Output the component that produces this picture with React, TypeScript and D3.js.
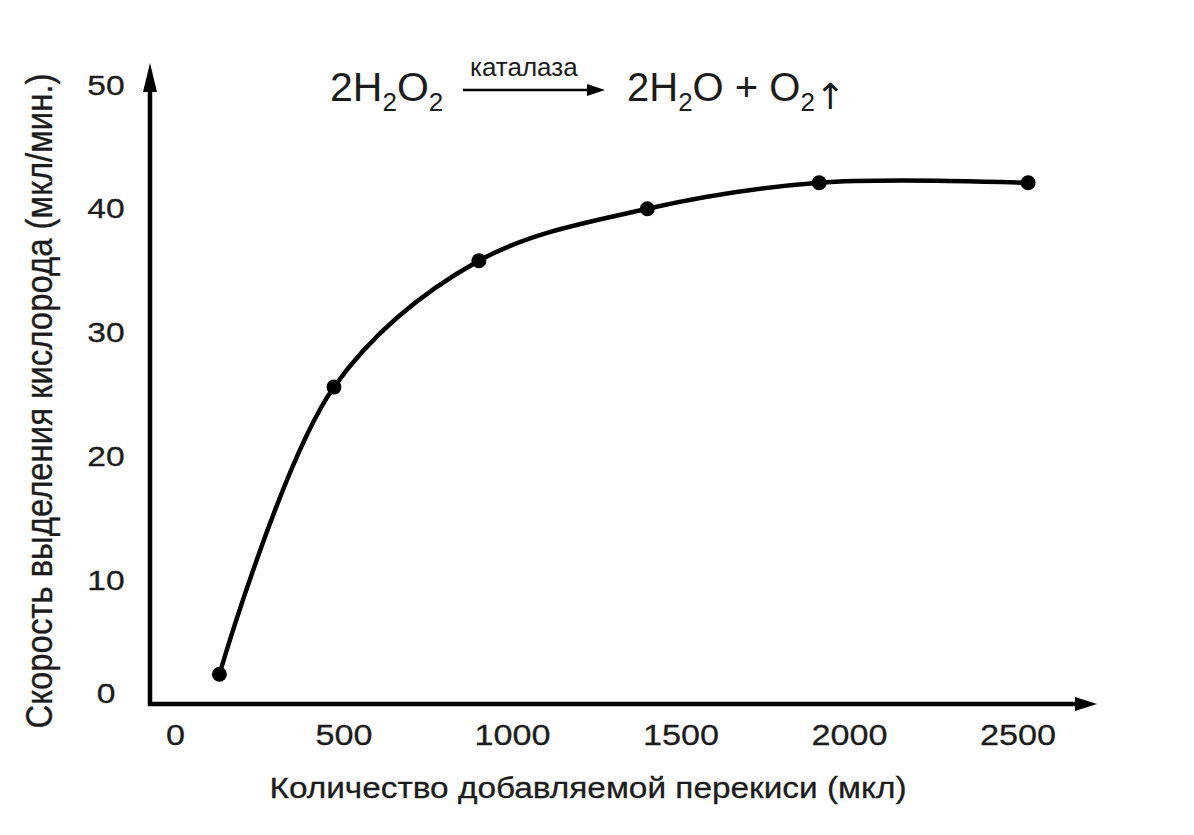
import React from "react";
import * as d3 from "d3";

const xTickValues = [0, 500, 1000, 1500, 2000, 2500];
const yTickValues = [0, 10, 20, 30, 40, 50];
const peroxideAmounts = [130, 470, 900, 1400, 1910, 2530];
const oxygenRates = [2.4, 25.6, 35.8, 40.0, 42.1, 42.1];
const xTitle = "Количество добавляемой перекиси (мкл)";
const yTitle = "Скорость выделения кислорода (мкл/мин.)";
const enzymeLabel = "каталаза";

const FONT = "'Liberation Sans', Arial, Helvetica, sans-serif";
const TEXT = "#1c1c1c";

export default function App() {
  const W = 1194;
  const H = 835;
  const x = d3.scaleLinear().domain([0, 2500]).range([175.6, 1018]);
  const y = d3.scaleLinear().domain([0, 50]).range([704, 85]);
  const axisX = 150;
  const axisY = y(0);
  const yTop = 63;
  const xRight = 1097;

  const pts = peroxideAmounts.map((v, i) => [x(v), y(oxygenRates[i])] as [number, number]);
  const linePath = d3.line().curve(d3.curveCatmullRom.alpha(0.5))(pts) || "";

  return (
    <svg
      width={W}
      height={H}
      style={{ position: "absolute", left: 0, top: 0, background: "#fff" }}
      fontFamily={FONT}
    >
      {/* axes */}
      <path
        d={`M${axisX},${yTop + 26} L${axisX},${axisY} L${xRight - 20},${axisY}`}
        fill="none"
        stroke="#000"
        strokeWidth={4.5}
        strokeLinejoin="miter"
        strokeLinecap="butt"
      />
      <path d={`M${axisX},${yTop} L${axisX - 7},${yTop + 29} L${axisX + 7},${yTop + 29} Z`} fill="#000" />
      <path d={`M${xRight},${axisY} L${xRight - 22},${axisY - 7} L${xRight - 22},${axisY + 7} Z`} fill="#000" />

      {/* y tick labels */}
      {yTickValues.map((v) => (
        <g key={"y" + v} transform={`translate(106, ${y(v) + (v === 0 ? -11 : 0)}) scale(1.18, 1)`}>
          <text textAnchor="middle" dominantBaseline="central" fontSize={28.5} fill={TEXT} stroke={TEXT} strokeWidth={0.3}>
            {String(v)}
          </text>
        </g>
      ))}

      {/* x tick labels */}
      {xTickValues.map((v) => (
        <g key={"x" + v} transform={`translate(${x(v)}, 745) scale(1.14, 1)`}>
          <text textAnchor="middle" fontSize={30} fill={TEXT} stroke={TEXT} strokeWidth={0.3}>
            {String(v)}
          </text>
        </g>
      ))}

      {/* axis titles */}
      <text
        x={588}
        y={798}
        textAnchor="middle"
        fontSize={30}
        fill={TEXT}
        stroke={TEXT}
        strokeWidth={0.3}
        textLength={637}
        lengthAdjust="spacingAndGlyphs"
      >
        {xTitle}
      </text>
      <g transform="translate(52, 401) rotate(-90) scale(1, 1.2)">
        <text
          x={0}
          y={0}
          textAnchor="middle"
          fontSize={31}
          fill={TEXT}
          stroke={TEXT}
          strokeWidth={0.3}
          textLength={655}
          lengthAdjust="spacingAndGlyphs"
        >
          {yTitle}
        </text>
      </g>

      {/* equation */}
      <text x={330} y={101} fontSize={41} fill={TEXT}>
        2H
        <tspan fontSize={26} dy={10}>2</tspan>
        <tspan dy={-10}>O</tspan>
        <tspan fontSize={26} dy={10}>2</tspan>
      </text>
      <text x={470} y={76} fontSize={26} fill={TEXT}>
        {enzymeLabel}
      </text>
      <line x1={463} y1={90} x2={590} y2={90} stroke="#000" strokeWidth={2.6} />
      <path d="M605,90 L587,84 L587,96 Z" fill="#000" />
      <text x={627} y={101} fontSize={40} fill={TEXT}>
        2H
        <tspan fontSize={26} dy={10}>2</tspan>
        <tspan dy={-10}>O + O</tspan>
        <tspan fontSize={26} dy={10}>2</tspan>
        <tspan fontFamily="'DejaVu Sans', sans-serif" fontSize={36} dy={-2}>↑</tspan>
      </text>

      {/* curve */}
      <path d={linePath} fill="none" stroke="#000" strokeWidth={4.5} strokeLinecap="round" />
      {pts.map((p, i) => (
        <circle key={i} cx={p[0]} cy={p[1]} r={7.5} fill="#000" />
      ))}
    </svg>
  );
}
